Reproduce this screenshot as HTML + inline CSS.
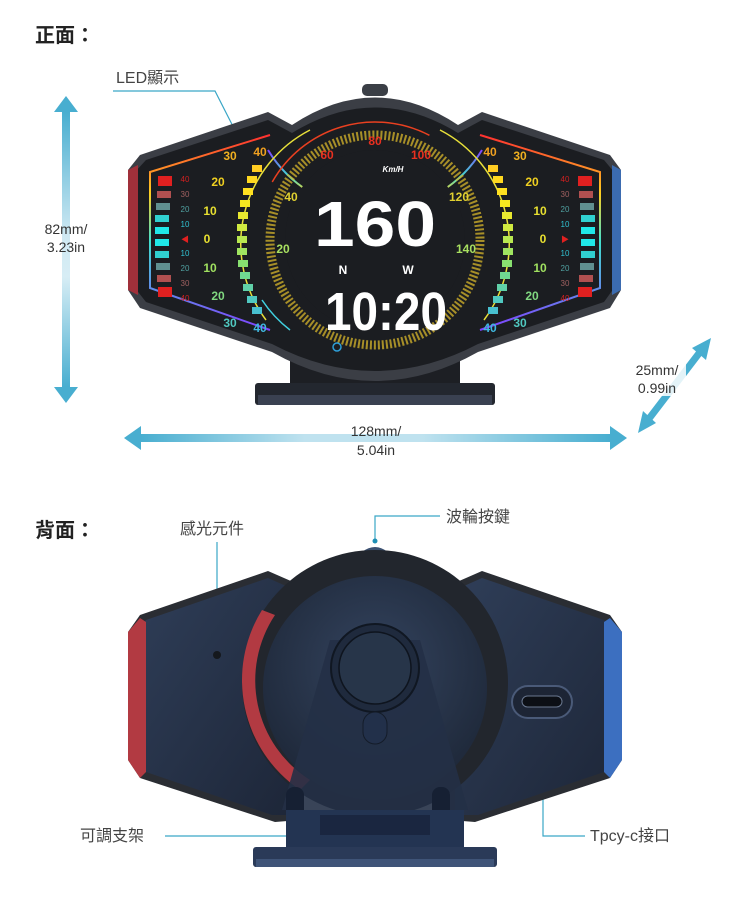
<!DOCTYPE html>
<html><head><meta charset="utf-8"><style>
html,body{margin:0;padding:0;background:#fff;}
svg{display:block;}
text{font-family:"Liberation Sans","Noto Sans CJK TC",sans-serif;}
</style></head><body>
<svg width="750" height="907" viewBox="0 0 750 907" xmlns="http://www.w3.org/2000/svg">
<defs>
<linearGradient id="va" x1="0" y1="0" x2="0" y2="1">
<stop offset="0" stop-color="#48aed0"/><stop offset="0.45" stop-color="#cfe9f3"/><stop offset="0.6" stop-color="#d7edf5"/><stop offset="1" stop-color="#48aed0"/></linearGradient>
<linearGradient id="ha" x1="0" y1="0" x2="1" y2="0">
<stop offset="0" stop-color="#48aed0"/><stop offset="0.35" stop-color="#bfe2ef"/><stop offset="0.6" stop-color="#bfe2ef"/><stop offset="1" stop-color="#48aed0"/></linearGradient>
<linearGradient id="rim" x1="0" y1="0" x2="0" y2="1">
<stop offset="0" stop-color="#ff3030"/><stop offset="0.3" stop-color="#ffd020"/><stop offset="0.55" stop-color="#40e0d0"/><stop offset="1" stop-color="#8040ff"/></linearGradient>
<linearGradient id="bk" x1="0" y1="0" x2="1" y2="1">
<stop offset="0" stop-color="#2f3e58"/><stop offset="1" stop-color="#1d2638"/></linearGradient>
<radialGradient id="ctr" cx="0.5" cy="0.4" r="0.6">
<stop offset="0" stop-color="#34445f"/><stop offset="1" stop-color="#1e2839"/></radialGradient>
</defs>

<!-- titles -->
<text x="35" y="42" font-size="20" font-weight="bold" fill="#222">正面：</text>
<text x="35" y="537" font-size="20" font-weight="bold" fill="#222">背面：</text>

<!-- vertical arrow -->
<rect x="62" y="112" width="8" height="275" fill="url(#va)"/>
<polygon points="66,96 54,112 78,112" fill="#48aed0"/>
<polygon points="66,403 54,387 78,387" fill="#48aed0"/>
<text x="66" y="234" font-size="14" fill="#333" text-anchor="middle">82mm/</text>
<text x="66" y="252" font-size="14" fill="#333" text-anchor="middle">3.23in</text>

<!-- horizontal arrow -->
<rect x="140" y="434" width="470" height="8" fill="url(#ha)"/>
<polygon points="124,438 141,426 141,450" fill="#48aed0"/>
<polygon points="627,438 610,426 610,450" fill="#48aed0"/>
<text x="376" y="436" font-size="14" fill="#333" text-anchor="middle">128mm/</text>
<text x="376" y="455" font-size="14" fill="#333" text-anchor="middle">5.04in</text>

<!-- diagonal arrow -->
<line x1="648" y1="420" x2="700" y2="352" stroke="#48aed0" stroke-width="7"/>
<polygon points="711,338 692,348 706,360" fill="#48aed0"/>
<polygon points="638,433 656,423 643,411" fill="#48aed0"/>
<rect x="628" y="360" width="58" height="36" fill="#fff" opacity="0.85"/>
<text x="657" y="375" font-size="14" fill="#333" text-anchor="middle">25mm/</text>
<text x="657" y="393" font-size="14" fill="#333" text-anchor="middle">0.99in</text>

<!-- LED label -->
<text x="116" y="83" font-size="16" fill="#444">LED顯示</text>
<polyline points="113,91 215,91 245,150" fill="none" stroke="#3aa6c6" stroke-width="1.2"/>
<circle cx="245" cy="150" r="2.5" fill="#1f8fb5"/>

<!-- FRONT DEVICE -->
<!-- stand -->
<rect x="290" y="345" width="170" height="40" fill="#1d1f24"/>
<rect x="255" y="383" width="240" height="22" rx="3" fill="#23272f"/>
<rect x="258" y="395" width="234" height="10" fill="#3a4151"/>
<!-- knob -->
<rect x="362" y="84" width="26" height="12" rx="5" fill="#3b3f46"/>
<!-- body -->
<path d="M140,155 L268,112 L292,125 Q375,70 458,125 L482,112 L610,155 L621,170 L621,290 L610,308 L478,352 Q375,410 272,352 L140,308 L128,290 L128,170 Z" fill="#3b3e45"/>
<path d="M146,160 L268,120 L292,133 Q375,82 458,133 L482,120 L604,160 L614,172 L614,288 L604,302 L478,344 Q375,398 272,344 L146,302 L135,288 L135,172 Z" fill="#1b1d21"/>
<!-- red/blue side edges -->
<path d="M128,170 L138,165 L138,295 L128,290 Z" fill="#a0303a"/>
<path d="M621,170 L612,165 L612,295 L621,290 Z" fill="#3b6bb0"/>
<!-- rainbow rims -->
<path d="M270,135 L150,172 L150,288 L270,330" fill="none" stroke="url(#rim)" stroke-width="2"/>
<path d="M480,135 L600,172 L600,288 L480,330" fill="none" stroke="url(#rim)" stroke-width="2"/>
<!-- arcs -->
<path d="M268,330 A125,125 0 0 1 482,330" fill="none" stroke="url(#rim)" stroke-width="2" transform="rotate(180 375 240)"/>
<circle cx="375" cy="240" r="118" fill="none" stroke="#e94020" stroke-width="1.5" stroke-dasharray="180 560" transform="rotate(-150 375 240)"/>
<circle cx="375" cy="240" r="105" fill="none" stroke="#d7b62b" stroke-width="9" stroke-dasharray="2 2" opacity="0.75"/>
<circle cx="375" cy="240" r="90" fill="#1b1d21"/>
<path d="M266,320 A128,128 0 0 1 310,130" fill="none" stroke="#e8e03a" stroke-width="1.5"/>
<path d="M484,320 A128,128 0 0 0 440,130" fill="none" stroke="#e8e03a" stroke-width="1.5"/>
<path d="M262,300 A125,125 0 0 0 290,330" fill="none" stroke="#40d0e0" stroke-width="1.5"/>
<!-- left bars -->
<g fill="#ffcc22">
<rect x="252" y="165" width="10" height="7"/><rect x="247" y="176" width="10" height="7" fill="#ffd820"/><rect x="243" y="188" width="10" height="7" fill="#ffe020"/><rect x="240" y="200" width="10" height="7" fill="#f5e820"/><rect x="238" y="212" width="10" height="7" fill="#e8e830"/><rect x="237" y="224" width="10" height="7" fill="#d0ea40"/><rect x="237" y="236" width="10" height="7" fill="#b8e850"/><rect x="237" y="248" width="10" height="7" fill="#a0e460"/><rect x="238" y="260" width="10" height="7" fill="#88e070"/><rect x="240" y="272" width="10" height="7" fill="#70d890"/><rect x="243" y="284" width="10" height="7" fill="#60d0a8"/><rect x="247" y="296" width="10" height="7" fill="#50c8c0"/><rect x="252" y="307" width="10" height="7" fill="#48c0d0"/>
</g>
<g fill="#ffcc22">
<rect x="488" y="165" width="10" height="7"/><rect x="493" y="176" width="10" height="7" fill="#ffd820"/><rect x="497" y="188" width="10" height="7" fill="#ffe020"/><rect x="500" y="200" width="10" height="7" fill="#f5e820"/><rect x="502" y="212" width="10" height="7" fill="#e8e830"/><rect x="503" y="224" width="10" height="7" fill="#d0ea40"/><rect x="503" y="236" width="10" height="7" fill="#b8e850"/><rect x="503" y="248" width="10" height="7" fill="#a0e460"/><rect x="502" y="260" width="10" height="7" fill="#88e070"/><rect x="500" y="272" width="10" height="7" fill="#70d890"/><rect x="497" y="284" width="10" height="7" fill="#60d0a8"/><rect x="493" y="296" width="10" height="7" fill="#50c8c0"/><rect x="488" y="307" width="10" height="7" fill="#48c0d0"/>
</g>
<!-- side small bars -->
<g>
<rect x="158" y="176" width="14" height="10" fill="#e02020"/><rect x="157" y="191" width="14" height="7" fill="#b05050"/><rect x="156" y="203" width="14" height="7" fill="#609090"/><rect x="155" y="215" width="14" height="7" fill="#30d0d0"/><rect x="155" y="227" width="14" height="7" fill="#20e8e8"/><rect x="155" y="239" width="14" height="7" fill="#20e8e8"/><rect x="155" y="251" width="14" height="7" fill="#30d0d0"/><rect x="156" y="263" width="14" height="7" fill="#609090"/><rect x="157" y="275" width="14" height="7" fill="#b05050"/><rect x="158" y="287" width="14" height="10" fill="#e02020"/>
<rect x="578" y="176" width="14" height="10" fill="#e02020"/><rect x="579" y="191" width="14" height="7" fill="#b05050"/><rect x="580" y="203" width="14" height="7" fill="#609090"/><rect x="581" y="215" width="14" height="7" fill="#30d0d0"/><rect x="581" y="227" width="14" height="7" fill="#20e8e8"/><rect x="581" y="239" width="14" height="7" fill="#20e8e8"/><rect x="581" y="251" width="14" height="7" fill="#30d0d0"/><rect x="580" y="263" width="14" height="7" fill="#609090"/><rect x="579" y="275" width="14" height="7" fill="#b05050"/><rect x="578" y="287" width="14" height="10" fill="#e02020"/>
</g>
<g font-size="8" text-anchor="middle">
<text x="185" y="182" fill="#d02020">40</text><text x="185" y="197" fill="#a06060">30</text><text x="185" y="212" fill="#50a0a0">20</text><text x="185" y="227" fill="#30c0d0">10</text><text x="185" y="242" fill="#e02020">◀</text><text x="185" y="256" fill="#30c0d0">10</text><text x="185" y="271" fill="#50a0a0">20</text><text x="185" y="286" fill="#a06060">30</text><text x="185" y="301" fill="#d02020">40</text>
<text x="565" y="182" fill="#d02020">40</text><text x="565" y="197" fill="#a06060">30</text><text x="565" y="212" fill="#50a0a0">20</text><text x="565" y="227" fill="#30c0d0">10</text><text x="565" y="242" fill="#e02020">▶</text><text x="565" y="256" fill="#30c0d0">10</text><text x="565" y="271" fill="#50a0a0">20</text><text x="565" y="286" fill="#a06060">30</text><text x="565" y="301" fill="#d02020">40</text>
</g>
<g font-size="12" font-weight="bold" font-family="Liberation Serif" text-anchor="middle">
<text x="230" y="160" fill="#f0b020">30</text><text x="260" y="156" fill="#f0a020">40</text>
<text x="218" y="186" fill="#f0d020">20</text><text x="210" y="215" fill="#e8e030">10</text><text x="207" y="243" fill="#e8e030">0</text><text x="210" y="272" fill="#a0e060">10</text><text x="218" y="300" fill="#80d880">20</text><text x="230" y="327" fill="#50c8c0">30</text><text x="260" y="332" fill="#40b8e0">40</text>
<text x="520" y="160" fill="#f0b020">30</text><text x="490" y="156" fill="#f0a020">40</text>
<text x="532" y="186" fill="#f0d020">20</text><text x="540" y="215" fill="#e8e030">10</text><text x="543" y="243" fill="#e8e030">0</text><text x="540" y="272" fill="#a0e060">10</text><text x="532" y="300" fill="#80d880">20</text><text x="520" y="327" fill="#50c8c0">30</text><text x="490" y="332" fill="#40b8e0">40</text>
<text x="327" y="159" fill="#e83020">60</text><text x="375" y="145" fill="#e83020">80</text><text x="421" y="159" fill="#e83020">100</text>
<text x="291" y="201" fill="#e0d030">40</text><text x="459" y="201" fill="#e0d030">120</text>
<text x="283" y="253" fill="#a8e060">20</text><text x="466" y="253" fill="#a8e060">140</text>
</g>
<text x="393" y="172" font-size="8" font-weight="bold" font-style="italic" fill="#fff" text-anchor="middle">Km/H</text>
<text x="375" y="246" font-size="64" font-weight="bold" font-family="Liberation Mono" fill="#fff" text-anchor="middle" textLength="122" lengthAdjust="spacingAndGlyphs">160</text>
<text x="343" y="274" font-size="12" font-weight="bold" fill="#fff" text-anchor="middle">N</text>
<text x="408" y="274" font-size="12" font-weight="bold" fill="#fff" text-anchor="middle">W</text>
<text x="386" y="330" font-size="54" font-weight="bold" font-family="Liberation Mono" fill="#fff" text-anchor="middle" textLength="122" lengthAdjust="spacingAndGlyphs">10:20</text>
<circle cx="337" cy="347" r="4" fill="none" stroke="#2e9fd8" stroke-width="1.5"/>

<!-- BACK labels -->
<text x="180" y="534" font-size="16" fill="#444">感光元件</text>
<line x1="217" y1="542" x2="217" y2="648" stroke="#3aa6c6" stroke-width="1.2"/>
<circle cx="217" cy="648" r="2.5" fill="#1f8fb5"/>
<text x="446" y="522" font-size="16" fill="#444">波輪按鍵</text>
<polyline points="440,516 375,516 375,541" fill="none" stroke="#3aa6c6" stroke-width="1.2"/>
<circle cx="375" cy="541" r="2.5" fill="#1f8fb5"/>
<text x="80" y="841" font-size="16" fill="#444">可調支架</text>
<line x1="165" y1="836" x2="297" y2="836" stroke="#3aa6c6" stroke-width="1.2"/>
<circle cx="297" cy="836" r="2.5" fill="#1f8fb5"/>
<text x="590" y="841" font-size="16" fill="#444">Tpcy-c接口</text>
<polyline points="543,709 543,836 585,836" fill="none" stroke="#3aa6c6" stroke-width="1.2"/>
<circle cx="543" cy="709" r="2.5" fill="#1f8fb5"/>

<!-- BACK DEVICE -->
<path d="M362,552 Q375,542 388,552 Z" fill="#3b5070"/>
<!-- wings -->
<path d="M140,615 L268,571 L300,585 L300,820 L275,822 L140,778 L128,760 L128,632 Z" fill="#2a2d33"/>
<path d="M146,620 L268,578 L295,590 L295,815 L272,815 L146,772 L136,758 L136,634 Z" fill="url(#bk)"/>
<path d="M128,632 L140,618 L146,622 L146,772 L140,778 L128,760 Z" fill="#b23a42"/>
<path d="M610,615 L482,571 L450,585 L450,820 L475,822 L610,778 L622,760 L622,632 Z" fill="#2a2d33"/>
<path d="M604,620 L482,578 L455,590 L455,815 L478,815 L604,772 L614,758 L614,634 Z" fill="url(#bk)"/>
<path d="M622,632 L610,618 L604,622 L604,772 L610,778 L622,760 Z" fill="#3c6fc0"/>
<!-- center dome -->
<circle cx="375" cy="683" r="133" fill="#22262d"/>
<path d="M262,610 A133,133 0 0 0 300,790 L310,780 A118,118 0 0 1 275,615 Z" fill="#b23a42"/>
<circle cx="375" cy="688" r="112" fill="url(#ctr)"/>
<!-- bracket -->
<path d="M330,640 L420,640 L468,810 L282,810 Z" fill="#243046" opacity="0.9"/>
<circle cx="375" cy="668" r="44" fill="#1f2a3d" stroke="#101722" stroke-width="2"/>
<circle cx="375" cy="668" r="36" fill="#273549" stroke="#0e141e" stroke-width="1.5"/>
<rect x="363" y="712" width="24" height="32" rx="12" fill="#22304a" stroke="#141c29"/>
<!-- usb -->
<rect x="512" y="686" width="60" height="32" rx="16" fill="#1d2535" stroke="#4a5a78" stroke-width="2"/>
<rect x="522" y="696" width="40" height="11" rx="5.5" fill="#0c0f15" stroke="#6a7890"/>
<!-- sensor -->
<circle cx="217" cy="655" r="4" fill="#15181d"/>
<!-- stand back -->
<rect x="286" y="787" width="18" height="60" rx="8" fill="#162033"/>
<rect x="432" y="787" width="18" height="60" rx="8" fill="#162033"/>
<rect x="286" y="810" width="178" height="40" fill="#233452"/>
<rect x="320" y="815" width="110" height="20" fill="#1a2640"/>
<rect x="253" y="847" width="244" height="20" rx="3" fill="#2a3a58"/>
<rect x="256" y="859" width="238" height="8" fill="#3f5478"/>
</svg>
</body></html>
